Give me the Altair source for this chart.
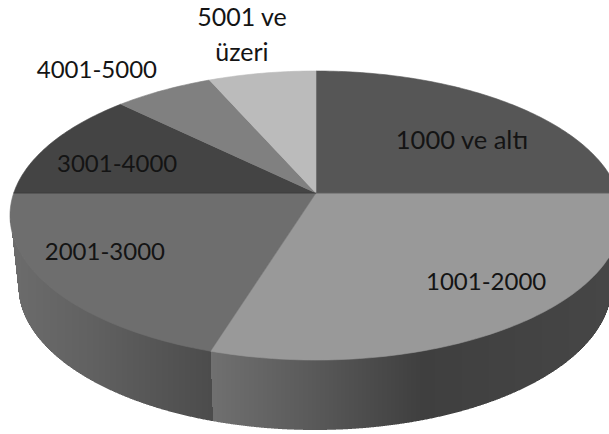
import altair as alt
import numpy as np
import pandas as pd

# Income bands and their shares of the pie (percent), clockwise from 12 o'clock
categories = ["1000 ve altı", "1001-2000", "2001-3000", "3001-4000", "4001-5000", "5001 ve\nüzeri"]
shares = [25.0, 29.8, 20.2, 12.3, 6.1, 6.6]
top_colors = ["#565656", "#999999", "#6e6e6e", "#444444", "#808080", "#bbbbbb"]

# Label anchors, as fractions of the pie's radii from its outline centre
label_anchors = [(0.477, -0.515), (0.556, 0.467), (-0.690, 0.260),
                 (-0.650, -0.349), (-0.716, -1.0), (-0.242, -1.365)]
label_sizes = [25.5, 24, 24, 24, 24, 25]

# Shading of the pie's wall, left to right: (offset along the wall, grey level)
wall_left = [(0.0, 108), (0.4, 97), (1.0, 76)]
wall_right = [(0.0, 112), (0.25, 90), (0.53, 63), (1.0, 70)]

W, H = 609, 434
CX, CY, RX, RY = 316, 215.5, 306, 144.5     # top face outline
BX, BY, BRX, BRY = 315, 285, 297, 145       # lower rim outline
TILT = 0.156                                # how far the perspective lifts the hub
SEAM_LEAN = 2.5                             # sideways drift of the wall seam, top to bottom


def rim(theta_deg):
    """Project a point on the pie's circular rim to the picture."""
    t = np.radians(theta_deg)
    d = 1 + TILT * np.cos(t)
    u = np.sin(t) * np.sqrt(1 - TILT**2) / d
    v = (np.cos(t) + TILT) / d
    return CX + RX * u, CY - RY * v


hub = (CX, CY - RY * TILT)
edges = np.concatenate([[0], np.cumsum(shares)]) * 3.6

# Top face wedges
rows = []
for i, cat in enumerate(categories):
    angles = np.arange(edges[i], edges[i + 1], 1.0).tolist() + [edges[i + 1]]
    pts = [hub] + [rim(a) for a in angles]
    for k, (x, y) in enumerate(pts):
        rows.append({"slice": cat, "k": k, "x": x, "y": y, "shade": top_colors[i]})
wedges = pd.DataFrame(rows)

# The darker crease running across the pie through its hub
crease = pd.DataFrame(
    [{"k": k, "x": p[0], "y": p[1]} for k, p in enumerate([rim(edges[1]), hub, rim(edges[3])])]
)

# Wall strips below the rim, with the shade jump at the second wedge boundary
seam_x, seam_y = rim(edges[2])


def wall_grey(xm, on_left):
    if on_left:
        g = np.interp((xm - 10) / (seam_x - 10), *zip(*wall_left))
    else:
        g = np.interp((xm - seam_x) / (W - seam_x), *zip(*wall_right))
    g = int(round(g))
    return f"#{g:02x}{g:02x}{g:02x}"


def lower_rim(x):
    return BY + BRY * np.sqrt(max(0, 1 - ((x - BX) / BRX) ** 2))


wall_rows = []
for x0 in range(10, W):
    xm = x0 + 0.5
    y_top = CY + RY * np.sqrt(max(0, 1 - ((xm - CX) / RX) ** 2))
    left_end = BX - BRX + 1
    if xm < left_end:
        # the wall's outer edge, running from the top face down to the lower rim
        y_bot = CY + (lower_rim(left_end) - CY) * (xm - (CX - RX)) / (left_end - (CX - RX))
    else:
        y_bot = lower_rim(xm)
    if seam_x <= xm <= seam_x + SEAM_LEAN:
        # the seam leans: upper part of the strip is the right wedge, lower the left
        y_cut = y_top + (y_bot - y_top) * (xm - seam_x) / SEAM_LEAN
        wall_rows.append({"x": x0, "x2": x0 + 1, "y": y_top - 1, "y2": y_cut, "shade": wall_grey(xm, False)})
        wall_rows.append({"x": x0, "x2": x0 + 1, "y": y_cut, "y2": y_bot, "shade": wall_grey(seam_x - 1, True)})
    else:
        wall_rows.append({"x": x0, "x2": x0 + 1, "y": y_top - 1, "y2": y_bot, "shade": wall_grey(xm, xm < seam_x)})
wall = pd.DataFrame(wall_rows)

labels = pd.DataFrame({
    "text": categories,
    "x": [CX + u * RX for u, _ in label_anchors],
    "y": [CY + v * RY for _, v in label_anchors],
    "size": label_sizes,
})

x_scale = alt.Scale(domain=[0, W], range=[0, W], nice=False, zero=False)
y_scale = alt.Scale(domain=[0, H], range=[0, H], nice=False, zero=False)
X = alt.X("x:Q", scale=x_scale, axis=None)
Y = alt.Y("y:Q", scale=y_scale, axis=None)

wall_layer = alt.Chart(wall).mark_rect(clip=True).encode(
    x=X, x2="x2:Q", y=Y, y2="y2:Q", fill=alt.Fill("shade:N", scale=None)
)
top_layer = alt.Chart(wedges).mark_line(
    clip=True, strokeWidth=0.6, strokeJoin="round", interpolate="linear-closed"
).encode(
    x=X, y=Y, order="k:Q", detail="slice:N",
    fill=alt.Fill("shade:N", scale=None), stroke=alt.Stroke("shade:N", scale=None),
)
crease_layer = alt.Chart(crease).mark_line(
    clip=True, color="#3a3a3a", strokeWidth=1, opacity=0.6
).encode(x=X, y=Y, order="k:Q")
text_layer = alt.Chart(labels).mark_text(
    font="Lato", color="#141414", align="center", baseline="middle",
    lineBreak="\n", lineHeight=35,
).encode(x=X, y=Y, text="text:N", size=alt.Size("size:Q", scale=None))

chart = (
    alt.layer(wall_layer, top_layer, crease_layer, text_layer)
    .properties(width=W, height=H, padding=0, background="white",
                autosize=alt.AutoSizeParams(type="none"))
    .configure_view(stroke=None)
)
chart.save("out.html", embed_options={"renderer": "svg", "actions": False})
